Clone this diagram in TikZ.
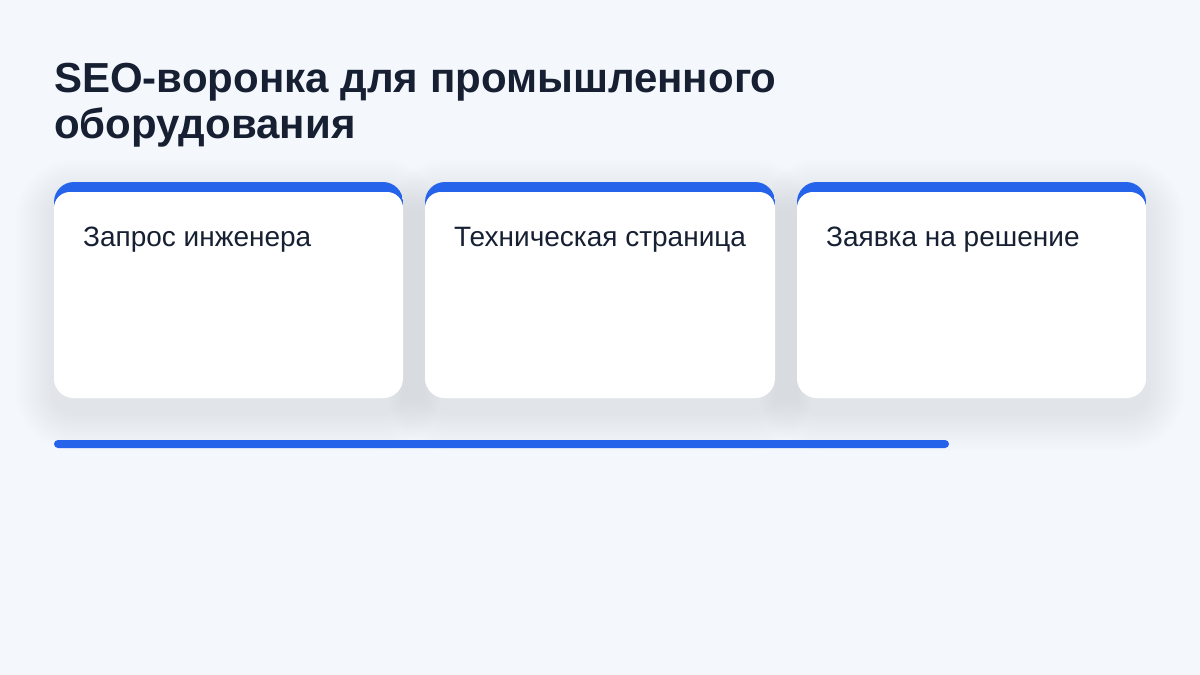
\documentclass[tikz,border=0pt]{standalone}
\usepackage{fontspec}
\setmainfont{Liberation Sans}
\definecolor{bg}{HTML}{F4F7FC}
\definecolor{accent}{HTML}{2563EB}
\definecolor{ink}{HTML}{172033}
\definecolor{shade}{HTML}{C2C6CE}
\tikzset{
  shadowlayer/.style={fill=shade, fill opacity=0.02},
  cardlabel/.style={anchor=base west, inner sep=0pt, text=ink, font=\fontsize{28}{34}\selectfont},
  titletext/.style={anchor=base west, inner sep=0pt, text=ink, font=\fontsize{42}{48}\selectfont\bfseries},
}
\begin{document}
\begin{tikzpicture}[x=1pt,y=-1pt]
\fill[bg] (0,0) rectangle (1200,675);
\useasboundingbox (0,0) rectangle (1200,675);
% title
\node[titletext] (title) at (54,92) {SEO-воронка для промышленного};
\node[titletext] (title2) at (54,138) {оборудования};
% shadows
\foreach \x/\w in {54/349, 425/350, 797/349} {
  \foreach \i in {2,4,...,38} {
    \fill[shadowlayer, rounded corners=20+\i] (\x-\i,198-\i) rectangle (\x+\w+\i,412+\i);
  }
}
% cards
\foreach \x/\w/\name/\txt in {54/349/c1/{Запрос инженера}, 425/350/c2/{Техническая страница}, 797/349/c3/{Заявка на решение}} {
  \begin{scope}
    \clip[rounded corners=20pt] (\x,182) rectangle ++(\w,216);
    \fill[accent] (\x,182) rectangle ++(\w,40);
    \fill[white, rounded corners=16pt] (\x,192) rectangle ++(\w,240);
    \fill[white] (\x,260) rectangle ++(\w,140);
  \end{scope}
  \node[cardlabel] (\name) at (\x+29,246) {\txt};
}
% progress bar
\fill[accent, rounded corners=4pt] (54,440) rectangle (949,448);
\end{tikzpicture}
\end{document}
